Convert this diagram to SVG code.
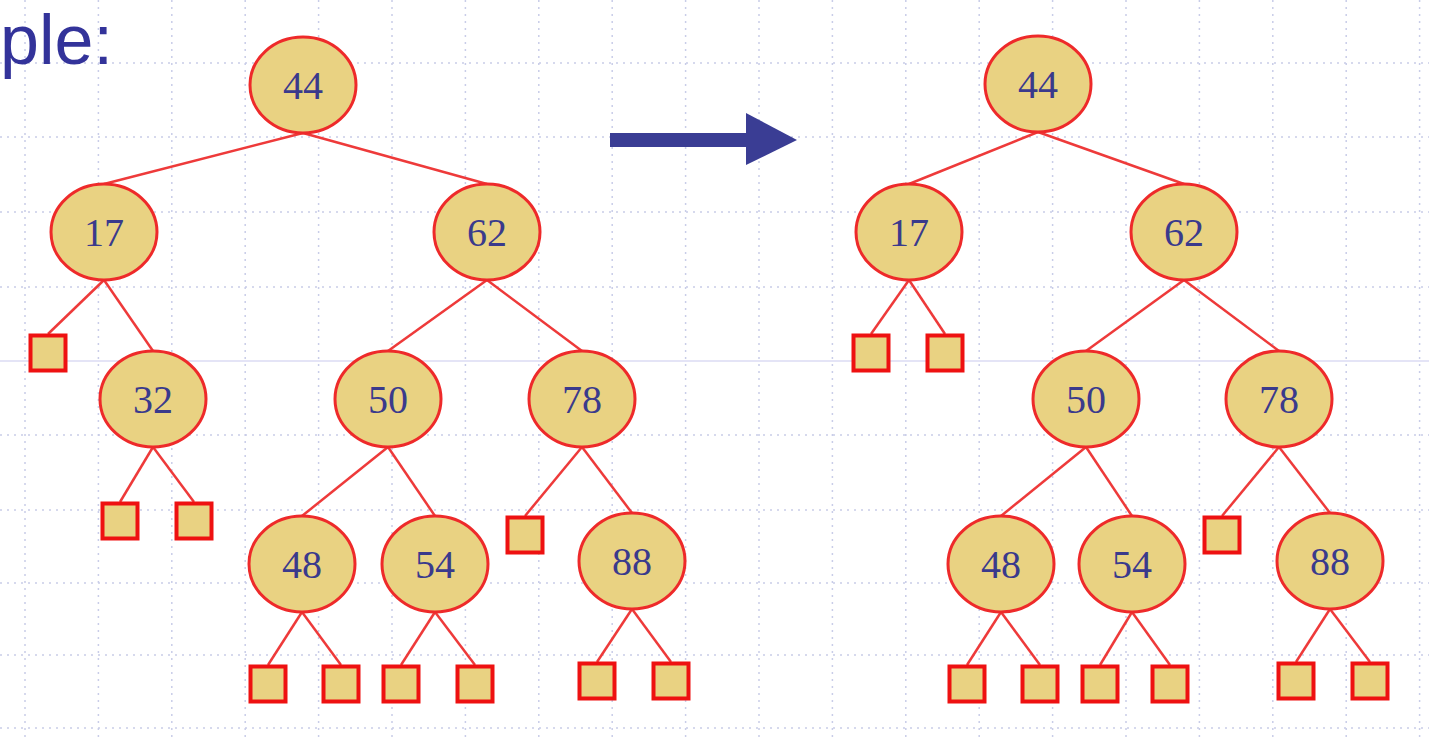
<svg xmlns="http://www.w3.org/2000/svg" width="1429" height="738" viewBox="0 0 1429 738">
<style>
.grid line{stroke:#c9cde8;stroke-width:1.5;stroke-dasharray:2 5}
.grid line.solid{stroke:#e4e4f6;stroke-dasharray:none;stroke-width:2}
.edges line{stroke:#ee3a3a;stroke-width:2.5}
.node ellipse{fill:#e9d282;stroke:#ee2a2a;stroke-width:3}
.leaf rect{fill:#e9d282;stroke:#ee1111;stroke-width:4}
.node text{font-family:"Liberation Serif","Times New Roman",serif;font-size:40px;fill:#3a3a8c;text-anchor:middle}
.title{font-family:"Liberation Sans",Arial,sans-serif;font-size:70px;fill:#33339a}
</style>
<rect width="1429" height="738" fill="#ffffff"/>
<g class="grid">
<line x1="25" y1="0" x2="25" y2="738"/><line x1="98.4" y1="0" x2="98.4" y2="738"/><line x1="171.8" y1="0" x2="171.8" y2="738"/><line x1="245.2" y1="0" x2="245.2" y2="738"/><line x1="318.6" y1="0" x2="318.6" y2="738"/><line x1="392" y1="0" x2="392" y2="738"/><line x1="465.4" y1="0" x2="465.4" y2="738"/><line x1="538.8" y1="0" x2="538.8" y2="738"/><line x1="612.2" y1="0" x2="612.2" y2="738"/><line x1="685.6" y1="0" x2="685.6" y2="738"/><line x1="759" y1="0" x2="759" y2="738"/><line x1="832.4" y1="0" x2="832.4" y2="738"/><line x1="905.8" y1="0" x2="905.8" y2="738"/><line x1="979.2" y1="0" x2="979.2" y2="738"/><line x1="1052.6" y1="0" x2="1052.6" y2="738"/><line x1="1126" y1="0" x2="1126" y2="738"/><line x1="1199.4" y1="0" x2="1199.4" y2="738"/><line x1="1272.8" y1="0" x2="1272.8" y2="738"/><line x1="1346.2" y1="0" x2="1346.2" y2="738"/><line x1="1419.6" y1="0" x2="1419.6" y2="738"/>
<line x1="0" y1="63" x2="1429" y2="63"/><line x1="0" y1="137" x2="1429" y2="137"/><line x1="0" y1="212" x2="1429" y2="212"/><line x1="0" y1="287" x2="1429" y2="287"/><line class="solid" x1="0" y1="361" x2="1429" y2="361"/><line x1="0" y1="435" x2="1429" y2="435"/><line x1="0" y1="510" x2="1429" y2="510"/><line x1="0" y1="583" x2="1429" y2="583"/><line x1="0" y1="655" x2="1429" y2="655"/><line x1="0" y1="728" x2="1429" y2="728"/>
</g>
<text class="title" x="0" y="64">ple:</text>
<g id="arrow" fill="#3a3d94">
<rect x="610" y="133" width="138" height="14"/>
<polygon points="746,113 797,140 746,165"/>
</g>
<g class="edges">
<line x1="303" y1="133" x2="104" y2="184"/><line x1="303" y1="133" x2="487" y2="184"/>
<line x1="104" y1="280" x2="48" y2="334"/><line x1="104" y1="280" x2="153" y2="351"/>
<line x1="487" y1="280" x2="388" y2="351"/><line x1="487" y1="280" x2="582" y2="351"/>
<line x1="153" y1="447" x2="120" y2="502"/><line x1="153" y1="447" x2="194" y2="502"/>
<line x1="388" y1="447" x2="302" y2="516"/><line x1="388" y1="447" x2="435" y2="516"/>
<line x1="582" y1="447" x2="525" y2="516"/><line x1="582" y1="447" x2="632" y2="513"/>
<line x1="302" y1="612" x2="268" y2="665"/><line x1="302" y1="612" x2="341" y2="665"/>
<line x1="435" y1="612" x2="401" y2="665"/><line x1="435" y1="612" x2="475" y2="665"/>
<line x1="632" y1="609" x2="597" y2="662"/><line x1="632" y1="609" x2="671" y2="662"/>
<line x1="1038" y1="132" x2="909" y2="184"/><line x1="1038" y1="132" x2="1184" y2="184"/>
<line x1="909" y1="280" x2="871" y2="334"/><line x1="909" y1="280" x2="945" y2="334"/>
<line x1="1184" y1="280" x2="1086" y2="351"/><line x1="1184" y1="280" x2="1279" y2="351"/>
<line x1="1086" y1="447" x2="1001" y2="516"/><line x1="1086" y1="447" x2="1132" y2="516"/>
<line x1="1279" y1="447" x2="1222" y2="516"/><line x1="1279" y1="447" x2="1330" y2="513"/>
<line x1="1001" y1="612" x2="967" y2="665"/><line x1="1001" y1="612" x2="1040" y2="665"/>
<line x1="1132" y1="612" x2="1100" y2="665"/><line x1="1132" y1="612" x2="1170" y2="665"/>
<line x1="1330" y1="609" x2="1296" y2="662"/><line x1="1330" y1="609" x2="1370" y2="662"/>
</g>
<g id="L44" class="node"><ellipse cx="303" cy="85" rx="53" ry="48"/><text x="303" y="99">44</text></g>
<g id="L17" class="node"><ellipse cx="104" cy="232" rx="53" ry="48"/><text x="104" y="246">17</text></g>
<g id="L62" class="node"><ellipse cx="487" cy="232" rx="53" ry="48"/><text x="487" y="246">62</text></g>
<g id="L32" class="node"><ellipse cx="153" cy="399" rx="53" ry="48"/><text x="153" y="413">32</text></g>
<g id="L50" class="node"><ellipse cx="388" cy="399" rx="53" ry="48"/><text x="388" y="413">50</text></g>
<g id="L78" class="node"><ellipse cx="582" cy="399" rx="53" ry="48"/><text x="582" y="413">78</text></g>
<g id="L48" class="node"><ellipse cx="302" cy="564" rx="53" ry="48"/><text x="302" y="578">48</text></g>
<g id="L54" class="node"><ellipse cx="435" cy="564" rx="53" ry="48"/><text x="435" y="578">54</text></g>
<g id="L88" class="node"><ellipse cx="632" cy="561" rx="53" ry="48"/><text x="632" y="575">88</text></g>
<g id="R44" class="node"><ellipse cx="1038" cy="84" rx="53" ry="48"/><text x="1038" y="98">44</text></g>
<g id="R17" class="node"><ellipse cx="909" cy="232" rx="53" ry="48"/><text x="909" y="246">17</text></g>
<g id="R62" class="node"><ellipse cx="1184" cy="232" rx="53" ry="48"/><text x="1184" y="246">62</text></g>
<g id="R50" class="node"><ellipse cx="1086" cy="399" rx="53" ry="48"/><text x="1086" y="413">50</text></g>
<g id="R78" class="node"><ellipse cx="1279" cy="399" rx="53" ry="48"/><text x="1279" y="413">78</text></g>
<g id="R48" class="node"><ellipse cx="1001" cy="564" rx="53" ry="48"/><text x="1001" y="578">48</text></g>
<g id="R54" class="node"><ellipse cx="1132" cy="564" rx="53" ry="48"/><text x="1132" y="578">54</text></g>
<g id="R88" class="node"><ellipse cx="1330" cy="561" rx="53" ry="48"/><text x="1330" y="575">88</text></g>
<g id="leavesL" class="leaf">
<rect x="30.5" y="335.5" width="35" height="35"/>
<rect x="102.5" y="503.5" width="35" height="35"/><rect x="176.5" y="503.5" width="35" height="35"/>
<rect x="507.5" y="517.5" width="35" height="35"/>
<rect x="250.5" y="666.5" width="35" height="35"/><rect x="323.5" y="666.5" width="35" height="35"/>
<rect x="383.5" y="666.5" width="35" height="35"/><rect x="457.5" y="666.5" width="35" height="35"/>
<rect x="579.5" y="663.5" width="35" height="35"/><rect x="653.5" y="663.5" width="35" height="35"/>
</g>
<g id="leavesR" class="leaf">
<rect x="853.5" y="335.5" width="35" height="35"/><rect x="927.5" y="335.5" width="35" height="35"/>
<rect x="1204.5" y="517.5" width="35" height="35"/>
<rect x="949.5" y="666.5" width="35" height="35"/><rect x="1022.5" y="666.5" width="35" height="35"/>
<rect x="1082.5" y="666.5" width="35" height="35"/><rect x="1152.5" y="666.5" width="35" height="35"/>
<rect x="1278.5" y="663.5" width="35" height="35"/><rect x="1352.5" y="663.5" width="35" height="35"/>
</g>
</svg>
